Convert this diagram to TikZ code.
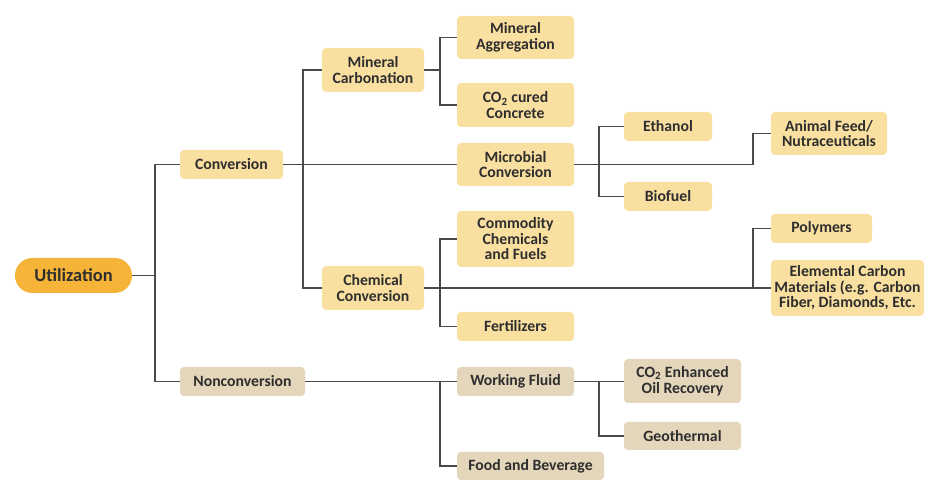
\documentclass[tikz,border=0pt]{standalone}
\usepackage{fontspec}
\setmainfont{Carlito}
\definecolor{ybox}{HTML}{FAE0A0}
\definecolor{tbox}{HTML}{E3D6BA}
\definecolor{orng}{HTML}{F5B337}
\definecolor{lnc}{HTML}{4A4A4A}
\definecolor{txc}{HTML}{2E2E2E}
\begin{document}
\begin{tikzpicture}[x=0.75pt,y=-0.75pt,
  base/.style={rounded corners=3pt, inner sep=1pt, align=center, text=txc,
    font=\fontsize{11.8}{11.6}\selectfont\bfseries},
  yb/.style={base, fill=ybox},
  tb/.style={base, fill=tbox},
  sz/.style 2 args={minimum width=#1*0.75pt, minimum height=#2*0.75pt},
  conn/.style={draw=lnc, line width=1.4pt}]
\useasboundingbox[fill=white] (0,0) rectangle (929,491);

\node[fill=orng, rounded corners=13pt, minimum width=117*0.75pt, minimum height=35*0.75pt,
  text=txc, font=\fontsize{13.8}{15}\selectfont\bfseries] (util) at (73.5,275.5) {Utilization};

\node[yb, sz={103}{29}] (conv) at (231.5,164.5) {Conversion};
\node[tb, sz={125}{29}] (nonconv) at (242.5,381.5) {Nonconversion};

\node[yb, sz={102}{44}] (mincarb) at (373,70) {Mineral\\Carbonation};
\node[yb, sz={102}{44}] (chem) at (373,288) {Chemical\\Conversion};

\node[yb, sz={117}{43}] (minagg) at (515.5,37.5) {Mineral\\Aggregation};
\node[yb, sz={117}{44}] (co2c) at (515.5,105) {CO\textsubscript{2} cured\\Concrete};
\node[yb, sz={117}{43}] (micro) at (515.5,164.5) {Microbial\\Conversion};
\node[yb, sz={117}{56}] (comm) at (515.5,239) {Commodity\\Chemicals\\and Fuels};
\node[yb, sz={117}{29}] (fert) at (515.5,326.5) {Fertilizers};

\node[yb, sz={88}{29}] (eth) at (668,126.5) {Ethanol};
\node[yb, sz={88}{29}] (bio) at (668,196.5) {Biofuel};

\node[yb, sz={116}{43}] (feed) at (829,133.5) {Animal Feed/\\Nutraceuticals};
\node[yb, sz={101}{29}] (poly) at (821.5,228.5) {Polymers};
\node[yb, sz={153}{56}] (elem) at (847.5,288) {Elemental Carbon\\Materials (e.g. Carbon\\Fiber, Diamonds, Etc.};

\node[tb, sz={117}{29}] (wf) at (515.5,381.5) {Working Fluid};
\node[tb, sz={147}{28}] (food) at (530.5,466) {Food and Beverage};
\node[tb, sz={117}{44}] (eor) at (682.5,381) {CO\textsubscript{2} Enhanced\\Oil Recovery};
\node[tb, sz={117}{28}] (geo) at (682.5,436) {Geothermal};

\coordinate (j1) at (155,275.5);
\coordinate (j2) at (303,164.5);
\coordinate (j3) at (440,70);
\coordinate (j4) at (440,288);
\coordinate (j5) at (753,288);
\coordinate (j6) at (753,164.5);
\coordinate (j7) at (599,164.5);
\coordinate (j8) at (440,381.5);
\coordinate (j9) at (599,381.5);

\draw[conn] (util.east) -- (j1);
\draw[conn] (conv.west) -| (j1);
\draw[conn] (nonconv.west) -| (j1);

\draw[conn] (conv.east) -- (micro.west);
\draw[conn] (mincarb.west) -| (j2);
\draw[conn] (chem.west) -| (j2);

\draw[conn] (mincarb.east) -- (j3);
\draw[conn] (minagg.west) -| (j3);
\draw[conn] (co2c.west) -| (j3);

\draw[conn] (chem.east) -- (elem.west);
\draw[conn] (comm.west) -| (j4);
\draw[conn] (fert.west) -| (j4);
\draw[conn] (poly.west) -| (j5);

\draw[conn] (micro.east) -- (j6) |- (feed.west);
\draw[conn] (eth.west) -| (j7);
\draw[conn] (bio.west) -| (j7);

\draw[conn] (nonconv.east) -- (wf.west);
\draw[conn] (food.west) -| (j8);

\draw[conn] (wf.east) -- (j9) -- (eor.west |- j9);
\draw[conn] (geo.west) -| (j9);
\end{tikzpicture}
\end{document}
